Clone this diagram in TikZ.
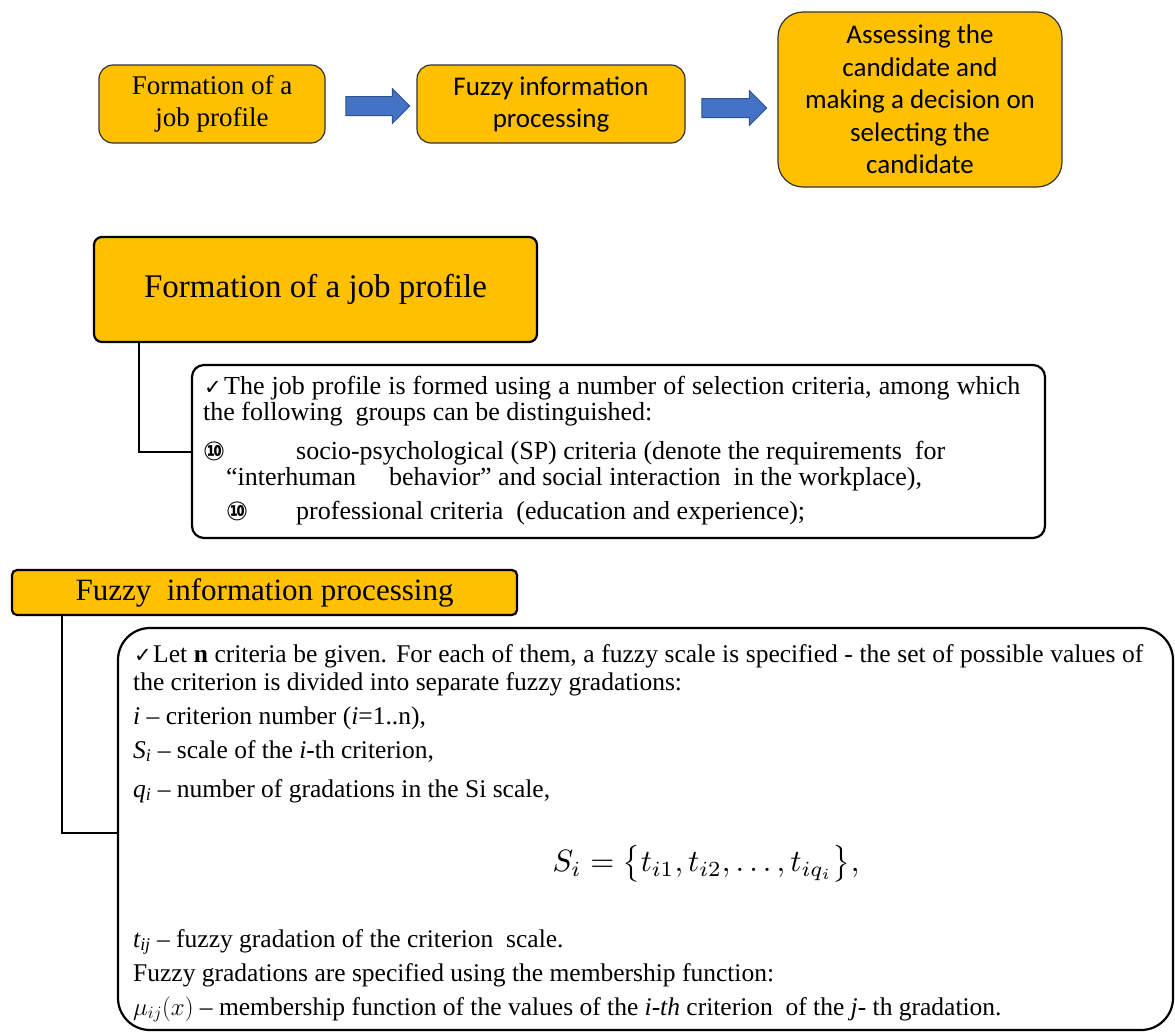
\documentclass[tikz,border=0pt]{standalone}
\usepackage{fontspec}
\setmainfont{Liberation Serif}
\newfontfamily\carlito{Carlito}
\newfontfamily\dejavu{DejaVu Sans}
\usetikzlibrary{shapes.arrows}
\definecolor{gold}{HTML}{FFC000}
\definecolor{arrowblue}{HTML}{4472C4}
\definecolor{arrowedge}{HTML}{2F528F}
\tikzset{
  topbox/.style={draw=black!80, line width=1.2pt, fill=gold, rounded corners=14pt, align=center, inner sep=0pt},
  headbox/.style={draw=black, line width=2.2pt, fill=gold, inner sep=0pt},
  textbox/.style={draw=black, line width=2.2pt, fill=white, inner sep=0pt},
  txt/.style={anchor=base west, inner sep=0pt, font=\fontsize{26}{28}\selectfont},
  txtb/.style={anchor=base west, inner sep=0pt, font=\fontsize{25.5}{28}\selectfont},
  chk/.style={anchor=base west, inner sep=0pt, font=\dejavu\fontsize{21}{22}\selectfont},
  ten/.style={anchor=base west, inner sep=0pt, font=\dejavu\bfseries\fontsize{26}{28}\selectfont},
  conn/.style={line width=2pt},
  blockarrow/.style={single arrow, fill=arrowblue, draw=arrowedge, line width=1pt,
    inner xsep=0pt, inner ysep=9pt, single arrow head extend=8pt, single arrow head indent=0pt}
}
\begin{document}
\begin{tikzpicture}[x=1pt,y=-1pt]
\useasboundingbox (0,0) rectangle (1175,1031);

% ---- top flow ----
\node[topbox, minimum width=226pt, minimum height=78pt, font=\fontsize{27}{32}\selectfont] (b1) at (212,104) {Formation of a\\job profile};
\node[topbox, minimum width=268pt, minimum height=78pt, font=\carlito\fontsize{27}{32}\selectfont] (b2) at (551,104) {Fuzzy information\\processing};
\node[topbox, rounded corners=25pt, minimum width=284pt, minimum height=175pt, font=\carlito\fontsize{27}{32.5}\selectfont] (b3) at (920,99.5) {Assessing the\\candidate and\\making a decision on\\selecting the\\candidate};
\node[blockarrow, minimum height=64pt] (a1) at (373,106) {};
\node[blockarrow, minimum height=65pt] (a2) at (729.5,108) {};

% ---- section 2 ----
\node[headbox, rounded corners=8pt, minimum width=443pt, minimum height=105pt, font=\fontsize{33}{36}\selectfont] (h2) at (315.5,289.5) {Formation of a job profile};
\node[textbox, rounded corners=12pt, minimum width=853pt, minimum height=173pt] (tb2) at (618.5,451.5) {};
\coordinate (c2) at (139,452);
\draw[conn] (h2.south -| c2) |- (tb2.west);

\node[chk] (k2) at (204,394) {✓};
\node[txt] (p1) at (224,394) {\makebox[796pt][s]{The job profile is formed using a number of selection criteria, among which}};
\node[txt] (p2) at (203,420) {the following \ groups can be distinguished:};
\node[ten] (n1) at (203,460) {⑩};
\node[txt] (p3) at (296,459) {\makebox[649pt][s]{socio-psychological (SP) criteria (denote the requirements \ for}};
\node[txt] (p4a) at (226,485) {“interhuman};
\node[txt] (p4b) at (389,485) {behavior” and social interaction \ in the workplace),};
\node[ten] (n2) at (226,520) {⑩};
\node[txt] (p5) at (296,519) {professional criteria \ (education and experience);};

% ---- section 3 ----
\node[headbox, rounded corners=5pt, minimum width=505pt, minimum height=45pt, font=\fontsize{31}{32}\selectfont] (h3) at (264.5,592.5) {Fuzzy \ information processing};
\node[textbox, rounded corners=32pt, minimum width=1055pt, minimum height=402pt] (bb) at (645.5,829) {};
\coordinate (c3) at (62,833);
\draw[conn] (h3.south -| c3) |- (bb.west |- c3);

\node[chk] (k3) at (134,662) {✓};
\node[txtb] (q1) at (153,662) {\makebox[990pt][s]{Let \textbf{n} criteria be given. For each of them, a fuzzy scale is specified - the set of possible values of}};
\node[txtb] (q2) at (133,690) {the criterion is divided into separate fuzzy gradations:};
\node[txtb] (q3) at (133,724) {\textit{i} – criterion number (\textit{i}=1..n),};
\node[txtb] (q4) at (133,758) {\textit{S\textsubscript{i}} – scale of the \textit{i}-th criterion,};
\node[txtb] (q5) at (133,797) {\textit{q\textsubscript{i}} – number of gradations in the Si scale,};
\node[inner sep=0pt] (fm) at (706,864) {\resizebox{307pt}{!}{$S_i=\bigl\{t_{i1},t_{i2},\ldots,t_{iq_i}\bigr\},$}};
\node[txtb] (q6) at (133,947) {\textit{t\textsubscript{ij}} – fuzzy gradation of the criterion \ scale.};
\node[txtb] (q7) at (133,981) {Fuzzy gradations are specified using the membership function:};
\node[txtb] (q8) at (133,1015) {$\mu_{ij}(x)$ – membership function of the values of the \textit{i-th} criterion \ of the \textit{j}- th gradation.};
\end{tikzpicture}
\end{document}
